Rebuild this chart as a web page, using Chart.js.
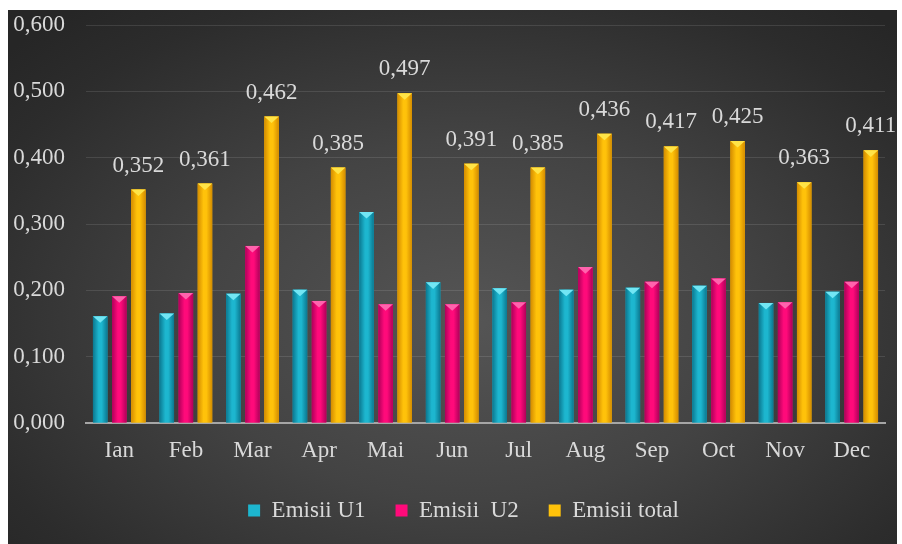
<!DOCTYPE html>
<html>
<head>
<meta charset="utf-8">
<script src="https://cdn.jsdelivr.net/npm/chart.js@4.4.1/dist/chart.umd.min.js"></script>
<style>
    html, body { margin: 0; padding: 0; background: #ffffff; }
    #wrap {
        position: absolute; left: 8px; top: 10px; width: 889px; height: 534px;
        background: radial-gradient(ellipse 70% 75% at 52% 58%, #555555 0%, #434343 45%, #2c2c2c 85%, #262626 100%);
    }
</style>
</head>
<body>
<div id="wrap"><canvas id="chart"></canvas></div>
<script>
const months = ['Ian', 'Feb', 'Mar', 'Apr', 'Mai', 'Jun', 'Jul', 'Aug', 'Sep', 'Oct', 'Nov', 'Dec'];
const emisiiU1 = [0.161, 0.165, 0.195, 0.201, 0.318, 0.212, 0.203, 0.201, 0.204, 0.207, 0.181, 0.198];
const emisiiU2 = [0.191, 0.196, 0.267, 0.184, 0.179, 0.179, 0.182, 0.235, 0.213, 0.218, 0.182, 0.213];
const emisiiTotal = [0.352, 0.361, 0.462, 0.385, 0.497, 0.391, 0.385, 0.436, 0.417, 0.425, 0.363, 0.411];
const yTicks = [0, 0.1, 0.2, 0.3, 0.4, 0.5, 0.6];

const serif = '"Liberation Serif", "Times New Roman", serif';
const textColor = '#d9d9d9';
const fmt = v => v.toFixed(3).replace('.', ',');

// bar look: dark edges, light middle, small bevel triangle on top
const barStyle = {
    id: 'barStyle',
    afterDatasetsDraw(chart) {
        const ctx = chart.ctx;
        chart.data.datasets.forEach((ds, di) => {
            const meta = chart.getDatasetMeta(di);
            if (meta.hidden) return;
            meta.data.forEach(bar => {
                const { x, y, base, width } = bar.getProps(['x', 'y', 'base', 'width'], true);
                const l = x - width / 2;
                const g = ctx.createLinearGradient(l, 0, l + width, 0);
                g.addColorStop(0, ds.edge);
                g.addColorStop(0.4, ds.backgroundColor);
                g.addColorStop(0.6, ds.backgroundColor);
                g.addColorStop(1, ds.edge);
                ctx.save();
                ctx.fillStyle = g;
                ctx.fillRect(l, y, width, base - y);
                ctx.beginPath();
                ctx.moveTo(l, y);
                ctx.lineTo(l + width, y);
                ctx.lineTo(x, y + width * 0.45);
                ctx.closePath();
                ctx.fillStyle = ds.top;
                ctx.fill();
                ctx.restore();
            });
        });
    }
};

const totalLabels = {
    id: 'totalLabels',
    afterDatasetsDraw(chart) {
        const ctx = chart.ctx;
        const meta = chart.getDatasetMeta(2);
        ctx.save();
        ctx.font = '23px ' + serif;
        ctx.fillStyle = textColor;
        ctx.textAlign = 'center';
        ctx.textBaseline = 'middle';
        meta.data.forEach((bar, i) => {
            ctx.fillText(fmt(emisiiTotal[i]), bar.x, bar.y - 24);
        });
        ctx.restore();
    }
};

// legend sits a bit right of the canvas centre in the original
const legendShift = {
    id: 'legendShift',
    afterLayout(chart) {
        chart.legend.left += 34;
    }
};

new Chart(document.getElementById('chart').getContext('2d'), {
    type: 'bar',
    data: {
        labels: months,
        datasets: [
            { label: 'Emisii U1', data: emisiiU1, backgroundColor: '#1db6cf', edge: '#0b7890', top: '#72e6f4' },
            { label: 'Emisii  U2', data: emisiiU2, backgroundColor: '#ff0a7a', edge: '#b0005a', top: '#ff63ad' },
            { label: 'Emisii total', data: emisiiTotal, backgroundColor: '#ffc20a', edge: '#d48c00', top: '#ffe447' }
        ]
    },
    options: {
        responsive: true,
        maintainAspectRatio: false,
        animation: false,
        categoryPercentage: 0.86,
        barPercentage: 0.76,
        layout: { padding: { left: 0, right: 12, top: 15, bottom: 12 } },
        plugins: {
            tooltip: { enabled: false },
            legend: {
                position: 'bottom',
                labels: {
                    color: textColor,
                    font: { family: serif, size: 23 },
                    boxWidth: 12,
                    boxHeight: 12,
                    padding: 30
                }
            }
        },
        scales: {
            x: {
                grid: { display: false, drawTicks: false },
                border: { color: '#a6a6a6', width: 2 },
                ticks: { color: textColor, font: { family: serif, size: 23 }, padding: 14 },
                afterFit: s => { s.height = 46; s.paddingLeft = 0; s.paddingRight = 0; }
            },
            y: {
                min: 0,
                max: 0.6,
                afterBuildTicks: s => { s.ticks = yTicks.map(v => ({ value: v })); },
                grid: { color: 'rgba(255,255,255,0.11)', drawTicks: false },
                border: { display: false },
                ticks: {
                    color: textColor,
                    font: { family: serif, size: 23 },
                    padding: 21,
                    callback: v => fmt(v)
                },
                afterFit: s => { s.width = 78; s.paddingTop = 0; s.paddingBottom = 0; }
            }
        }
    },
    plugins: [barStyle, totalLabels, legendShift]
});
</script>
</body>
</html>
